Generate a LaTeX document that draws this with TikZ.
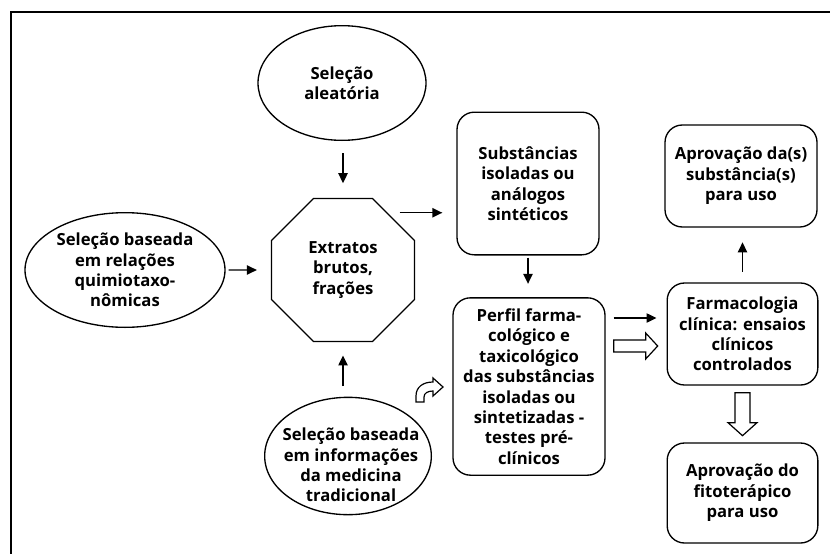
\documentclass[tikz,border=0pt]{standalone}
\usepackage{fontspec}
\setmainfont{Open Sans}
\usetikzlibrary{shapes.geometric,arrows.meta,calc}

\tikzset{every picture/.style={line width=1pt}}

\begin{document}
\begin{tikzpicture}[x=0.75pt,y=0.75pt,yscale=-1,
  txt/.style={align=center,inner sep=0pt,font=\bfseries\fontsize{12.5}{15.3}\selectfont},
  oval/.style={txt,draw,ellipse,inner sep=-25pt},
  caixa/.style={txt,draw,rounded corners=13pt},
  seta/.style={-{Triangle[length=7.5pt,width=7pt]}},
  oca/.style={line width=0.9pt,line join=miter}]
\useasboundingbox (0,0) rectangle (830,553);

%Shape: Frame
\draw [line width=1.1pt] (11,12) rectangle (850,570);

%Shape: Ellipse
\node [oval,minimum width=126pt,minimum height=86pt] (aleat) at (342,83) {Seleção\\aleatória};
%Shape: Ellipse
\node [oval,minimum width=150pt,minimum height=86pt] (quimio) at (125,270) {Seleção baseada\\em relações\\quimiotaxo-\\nômicas};
%Shape: Ellipse
\node [oval,minimum width=125pt,minimum height=88pt] (medic) at (348,456) {};
% Text Node
\node [txt] (medicT) at (351,465) {Seleção baseada\\em informações\\da medicina\\tradicional};
%Shape: Octagon
\node [txt,draw,regular polygon,regular polygon sides=8,minimum size=116pt] (oct) at (343,270) {Extratos\\brutos,\\frações};

%Shape: Rounded Rect
\node [caixa,minimum width=106.5pt,minimum height=107pt] (subst) at (528,183.5) {Substâncias\\isoladas ou\\análogos\\sintéticos};
%Shape: Rounded Rect
\node [caixa,minimum width=114pt,minimum height=133pt] (perfil) at (529,386.5) {Perfil farma-\\cológico e\\taxicológico\\das substâncias\\isoladas ou\\sintetizadas -\\testes pré-\\clínicos};
%Shape: Rounded Rect
\node [caixa,minimum width=113pt,minimum height=76.5pt] (farma) at (742.5,334) {Farmacologia\\clínica: ensaios\\clínicos\\controlados};
%Shape: Rounded Rect
\node [caixa,minimum width=114pt,minimum height=76.5pt] (aprovS) at (741,176) {Aprovação da(s)\\substância(s)\\para uso};
%Shape: Rounded Rect
\node [caixa,minimum width=113pt,minimum height=75pt] (aprovF) at (742.5,493) {Aprovação do\\fitoterápico\\para uso};

%Straight Lines
\draw [seta,shorten <=9pt,shorten >=11pt] (aleat.south -| oct.north) -- (oct.north);
\draw [seta,shorten <=2.25pt,shorten >=10.5pt] (quimio.east) -- (oct.west);
\draw [seta,shorten <=8pt,shorten >=10pt] (medic.north -| oct.south) -- (oct.south);
\draw [seta,shorten <=9pt,shorten >=10.5pt] (oct.52) -- (oct.52 -| subst.west);
\draw [seta,shorten <=1.5pt,shorten >=10pt] (subst.south) -- (subst.south |- perfil.north);
\coordinate (s1) at ($(farma.west)+(0,-16)$);
\draw [seta,shorten <=6pt,shorten >=7.5pt] (s1 -| perfil.east) -- (s1);
\draw [seta,shorten <=8pt,shorten >=11pt] (farma.north) -- (farma.north |- aprovS.south);

%Hollow Arrows
\coordinate (s2) at ($(farma.west)+(0,12)$);
\draw [oca] ($(s2 -| perfil.east)+(8,-6)$) -- ++(32,0) -- ++(0,-7) -- ++(12,13) -- ++(-12,13) -- ++(0,-7) -- ++(-32,0) -- cycle;
\draw [oca] ($(farma.south)+(-7.5,7)$) -- ++(0,30) -- ++(-7,0) -- ++(14.5,13) -- ++(14.5,-13) -- ++(-7,0) -- ++(0,-30) -- cycle;
%Shape: Bent Arrow
\draw [oca] (416,402) -- (416,396) .. controls (416,387) and (423,382) .. (433,382) -- (433,378) -- (443,387) -- (433,396) -- (433,391) .. controls (428,391) and (424,393) .. (424,397) -- (424,402) -- cycle;
\end{tikzpicture}
\end{document}
